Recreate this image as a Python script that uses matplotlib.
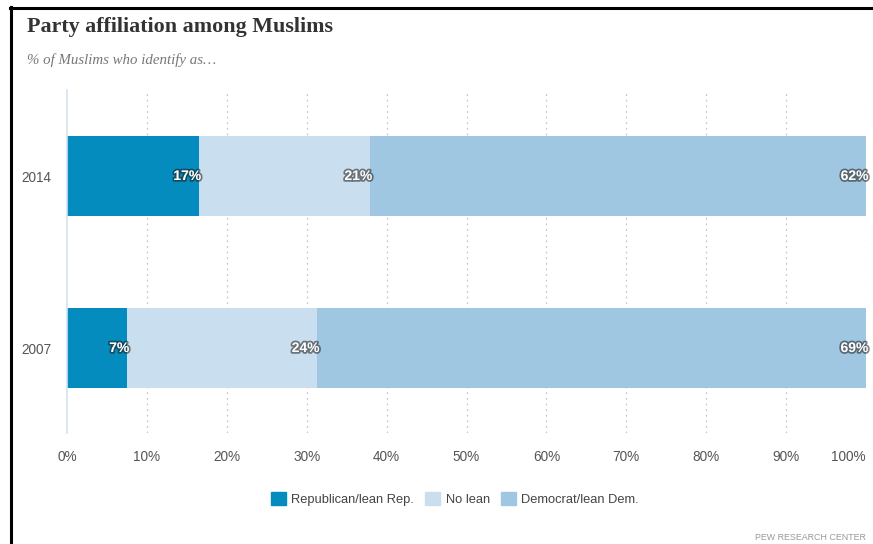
import numpy as np
from matplotlib import pyplot as plt
from matplotlib import patheffects as pe
from matplotlib.lines import Line2D
from matplotlib.patches import Rectangle

years = ["2007", "2014"]
republican = [7.5, 16.5]
no_lean = [23.8, 21.4]
democrat = [68.7, 62.1]
rep_labels = ["7%", "17%"]
nolean_labels = ["24%", "21%"]
dem_labels = ["69%", "62%"]
series_names = ["Republican/lean Rep.", "No lean", "Democrat/lean Dem."]
colors = ["#038cbd", "#c9dff0", "#9fc7e1"]
ticks = np.arange(0, 101, 10)

sans = "Liberation Sans"

W, H = 873, 544
fig = plt.figure(figsize=(W / 100, H / 100), dpi=100)
ax = fig.add_axes([67 / W, 1 - 433 / H, (866 - 67) / W, (433 - 90) / H])

y = np.arange(len(years))
left = np.zeros(len(years))
halo = [pe.withStroke(linewidth=2.5, foreground=(0.1, 0.1, 0.1, 0.55))]
for vals, labels, col in zip([republican, no_lean, democrat],
                             [rep_labels, nolean_labels, dem_labels], colors):
    ax.barh(y, vals, left=left, height=0.465, color=col, edgecolor="none")
    for yi, v, l, lab in zip(y, vals, left, labels):
        ax.text(l + v + 0.3, yi, lab, ha="right", va="center", color="white",
                fontsize=10, fontweight="bold", family=sans,
                path_effects=halo)
    left = left + np.array(vals)

ax.set_xlim(0, 100)
ax.set_ylim(-0.494, 1.5)
ax.set_xticks(ticks)
ax.set_xticklabels([f"{t}%" for t in ticks], family=sans, fontsize=9.8)
ax.get_xticklabels()[-1].set_horizontalalignment("right")
ax.get_xticklabels()[-1].set_x(100.4)
ax.set_yticks(y)
ax.set_yticklabels(years, family=sans, fontsize=9.8)
ax.tick_params(length=0, labelcolor="#555555")
ax.tick_params(axis="x", pad=12)
ax.tick_params(axis="y", pad=11)
for t in ticks[1:]:
    ax.axvline(t, color="#c8c8c8", lw=0.9, ls=(0, (1.5, 3)), zorder=0)
for s in ["top", "right", "bottom"]:
    ax.spines[s].set_visible(False)
ax.spines["left"].set_color("#d3e3f2")
ax.spines["left"].set_linewidth(1.2)

fig.text(27 / W, 1 - 27 / H, "Party affiliation among Muslims", fontsize=15.8,
         fontweight="bold", family="Liberation Serif", color="#333333",
         va="center", ha="left")
fig.text(27 / W, 1 - 60 / H, "% of Muslims who identify as\u2026", fontsize=10.7,
         style="italic", family="Liberation Serif", color="#777777",
         va="center", ha="left")

handles = [Rectangle((0, 0), 1, 1, color=c) for c in colors]
fig.legend(handles, series_names, loc="center", bbox_to_anchor=(455 / W, 1 - 499 / H),
           ncol=3, frameon=False, prop={"family": sans, "size": 9.3},
           handlelength=1.15, handleheight=1.15, handletextpad=0.4,
           columnspacing=0.9, labelcolor="#444444")

fig.text(866 / W, 1 - 538 / H, "PEW RESEARCH CENTER", family=sans, fontsize=6.4,
         color="#999999", ha="right", va="center")

fig.add_artist(Line2D([10 / W, 1], [1 - 7.5 / H, 1 - 7.5 / H], color="black", lw=2.2))
fig.add_artist(Line2D([11 / W, 11 / W], [0, 1 - 7 / H], color="black", lw=2.2))

fig.savefig("out.png", dpi=100)
